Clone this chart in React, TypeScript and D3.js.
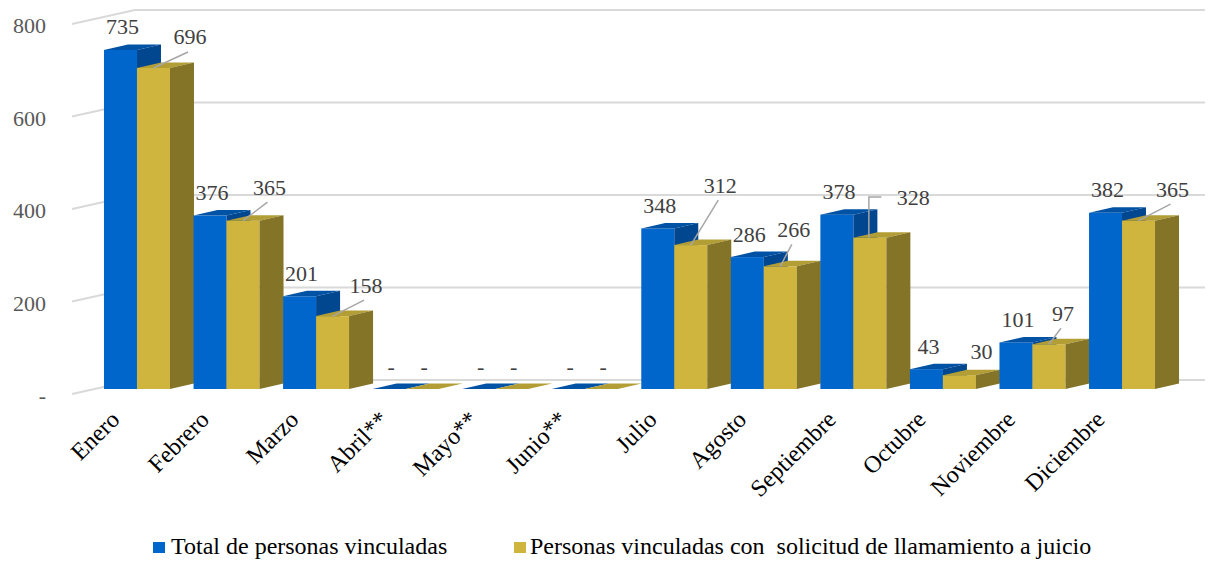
import React from 'react'
import * as d3 from 'd3'

const months = ['Enero', 'Febrero', 'Marzo', 'Abril**', 'Mayo**', 'Junio**', 'Julio', 'Agosto', 'Septiembre', 'Octubre', 'Noviembre', 'Diciembre']
const totalVinculadas = [735, 376, 201, 0, 0, 0, 348, 286, 378, 43, 101, 382]
const conSolicitud = [696, 365, 158, 0, 0, 0, 312, 266, 328, 30, 97, 365]
const yTicks = [0, 200, 400, 600, 800]
const seriesNames = ['Total de personas vinculadas', 'Personas vinculadas con  solicitud de llamamiento a juicio']

// where Excel moved the yellow labels (relative to the bar top), and the leader kind
const moved: ([number, number] | null)[] = [[36.5, -31], [26.5, -33.5], [33.5, -31], null, null, null, [29.5, -60], [13.5, -37], [43.5, -40.6], [22, -24], [14, -31], [34, -31.5]]
const leaders = ['line', 'line', 'line', 'none', 'none', 'none', 'line', 'line', 'elbow', 'none', 'line', 'line']

const W = 1209
const H = 561
const FONT = '"Liberation Serif", "Times New Roman", serif'
const DX = 24
const DY = -5.5

const colors = [
    { front: '#0066cc', top: '#0052a5', side: '#00478f' },
    { front: '#cfb53d', top: '#b39d35', side: '#847428' }
]

function fmt(v: number) {
    return v === 0 ? '-' : d3.format(',')(v)
}

function Bar({ x, w, top, base, c }: { x: number, w: number, top: number, base: number, c: typeof colors[0] }) {
    return (
        <g>
            <rect x={x} y={top} width={w} height={base - top} fill={c.front} />
            <polygon points={`${x},${top} ${x + DX},${top + DY} ${x + w + DX},${top + DY} ${x + w},${top}`} fill={c.top} />
            <polygon points={`${x + w},${top} ${x + w + DX},${top + DY} ${x + w + DX},${base + DY} ${x + w},${base}`} fill={c.side} />
        </g>
    )
}

function App() {
    const x = d3.scaleBand<string>().domain(months).range([92.2, 1166.8]).paddingInner(0.263).paddingOuter(0.1315)
    const inner = d3.scaleBand<number>().domain([0, 1]).range([0, x.bandwidth()])
    const yFront = d3.scaleLinear().domain([0, 800]).range([389, 20])
    const yBack = d3.scaleLinear().domain([0, 800]).range([380, 10])
    const base = yFront(0)
    const series = [totalVinculadas, conSolicitud]

    return (
        <svg width={W} height={H} style={{ position: 'absolute', left: 0, top: 0, background: '#fff' }} fontFamily={FONT}>
            <rect width={W} height={H} fill="#fff" />
            <g stroke="#d9d9d9" strokeWidth={2} fill="none">
                {yTicks.map(t => (
                    <g key={t}>
                        <line x1={72} y1={yBack(t) + 14} x2={135} y2={yBack(t)} />
                        <line x1={135} y1={yBack(t)} x2={1205} y2={yBack(t)} />
                    </g>
                ))}
            </g>
            <g fill="#595959" fontSize={22} textAnchor="end">
                {yTicks.map(t => (
                    <text key={t} x={46} y={yBack(t) + 23}>{fmt(t)}</text>
                ))}
            </g>
            {months.map((m, i) => (
                <g key={m}>
                    {series.map((s, k) => (
                        <Bar key={k} x={(x(m) as number) + (inner(k) as number)} w={inner.bandwidth()}
                            top={yFront(s[i])} base={base} c={colors[k]} />
                    ))}
                </g>
            ))}
            {months.map((m, i) => {
                const cx0 = (x(m) as number) + (inner(0) as number) + inner.bandwidth() / 2
                const cx1 = (x(m) as number) + (inner(1) as number) + inner.bandwidth() / 2
                const t0 = yFront(totalVinculadas[i])
                const t1 = yFront(conSolicitud[i])
                const off = moved[i] || [2, -23]
                const lx = cx1 + off[0]
                const ly = t1 + off[1]
                let leader = null
                if (leaders[i] === 'line') {
                    leader = <line x1={cx1} y1={t1} x2={lx - 2} y2={ly + 15} stroke="#a6a6a6" strokeWidth={1.5} />
                } else if (leaders[i] === 'elbow') {
                    leader = <polyline points={`${cx1 - 1},${t1} ${cx1 - 1},${ly} ${lx - 32},${ly}`} stroke="#a6a6a6" strokeWidth={1.5} fill="none" />
                }
                return (
                    <g key={m} fill="#404040" fontSize={22} textAnchor="middle">
                        {leader}
                        <text x={cx0 + 2} y={t0 - 23 + 7.5}>{fmt(totalVinculadas[i])}</text>
                        <text x={lx} y={ly + 7.5}>{fmt(conSolicitud[i])}</text>
                    </g>
                )
            })}
            <g fontSize={24} fill="#000" textAnchor="end">
                {months.map(m => {
                    const px = (x(m) as number) + x.bandwidth() / 2 - 16
                    return <text key={m} transform={`translate(${px},421) rotate(-45)`}>{m}</text>
                })}
            </g>
            <g fontSize={24} fill="#000">
                <rect x={153} y={542} width={12} height={11} fill={colors[0].front} />
                <text x={171} y={554}>{seriesNames[0]}</text>
                <rect x={514} y={542} width={12} height={11} fill={colors[1].front} />
                <text x={530} y={554} style={{ whiteSpace: 'pre' }}>{seriesNames[1]}</text>
            </g>
        </svg>
    )
}

export default App
